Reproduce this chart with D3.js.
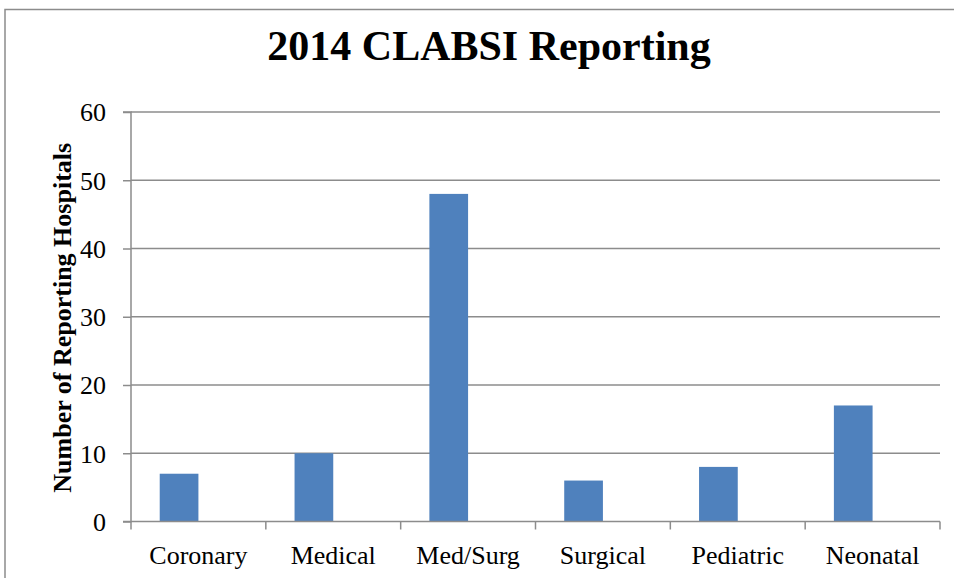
<!DOCTYPE html>
<html><head><meta charset="utf-8">
<script src="https://cdn.jsdelivr.net/npm/d3@7"></script>
<style>html,body{margin:0;padding:0;background:#fff;}svg{display:block;}</style>
</head><body>
<svg id="c" width="954" height="578"></svg>
<script>
const categories = ["Coronary","Medical","Med/Surg","Surgical","Pediatric","Neonatal"];
const values = [7,10,48,6,8,17];
const yTicks = [0,10,20,30,40,50,60];
const title = "2014 CLABSI Reporting";
const yTitle = "Number of Reporting Hospitals";

const svg = d3.select("#c");
const font = "'Liberation Serif','Times New Roman',serif";
const grid = "#8c8c8c";

// outer chart border
svg.append("rect").attr("x",5).attr("y",9.5).attr("width",1000).attr("height",700)
  .attr("fill","none").attr("stroke","#8c8c8c").attr("stroke-width",1.5);

const L=131, R=940, T=112, B=521.5;
const x = d3.scaleBand().domain(categories).range([L,R]).padding(0);
const y = d3.scaleLinear().domain([0,60]).range([B,T]);

// gridlines
svg.append("g").selectAll("line").data(yTicks.filter(d=>d>0)).join("line")
  .attr("x1",L).attr("x2",R).attr("y1",d=>y(d)).attr("y2",d=>y(d))
  .attr("stroke",grid).attr("stroke-width",1.5);

// bars (first of two series slots; second slot empty)
const bw = x.bandwidth()*0.287;
svg.append("g").selectAll("rect").data(values).join("rect")
  .attr("x",(d,i)=>x(categories[i])+x.bandwidth()/2-bw)
  .attr("width",bw)
  .attr("y",d=>y(d)).attr("height",d=>y(0)-y(d))
  .attr("fill","#4f81bd");

// y axis
const yAxis = d3.axisLeft(y).tickValues(yTicks).tickSize(8).tickPadding(17).tickFormat(d3.format("d"));
const gy = svg.append("g").attr("transform",`translate(${L},0)`).call(yAxis);
gy.select(".domain").attr("stroke",grid).attr("stroke-width",1.5).attr("d",`M-8,${T}H0V${B}H-8`);
gy.selectAll(".tick line").attr("stroke",grid).attr("stroke-width",1.5);
gy.selectAll(".tick text").attr("font-family",font).attr("font-size",26).attr("fill","#000").attr("dy","0.34em");

// x axis
const xAxis = d3.axisBottom(x).tickSize(0).tickPadding(0);
const gx = svg.append("g").attr("transform",`translate(0,${B})`).call(xAxis);
gx.select(".domain").attr("stroke",grid).attr("stroke-width",1.5).attr("d",`M${L},0H${R}`);
gx.selectAll(".tick text").attr("font-family",font).attr("font-size",26).attr("fill","#000")
  .attr("y",42).attr("dy",0);
// category boundary ticks
const edges = categories.map(c=>x(c)).concat([R]);
gx.append("g").selectAll("line").data(edges).join("line")
  .attr("x1",d=>d).attr("x2",d=>d).attr("y1",0).attr("y2",8)
  .attr("stroke",grid).attr("stroke-width",1.5);

// title
svg.append("text").attr("x",489).attr("y",60).attr("text-anchor","middle")
  .attr("font-family",font).attr("font-weight","bold").attr("font-size",42).text(title);

// y title
svg.append("text").attr("transform",`translate(71,${(T+B)/2+1}) rotate(-90)`)
  .attr("text-anchor","middle").attr("font-family",font).attr("font-weight","bold")
  .attr("font-size",26).text(yTitle);
</script>
</body></html>
